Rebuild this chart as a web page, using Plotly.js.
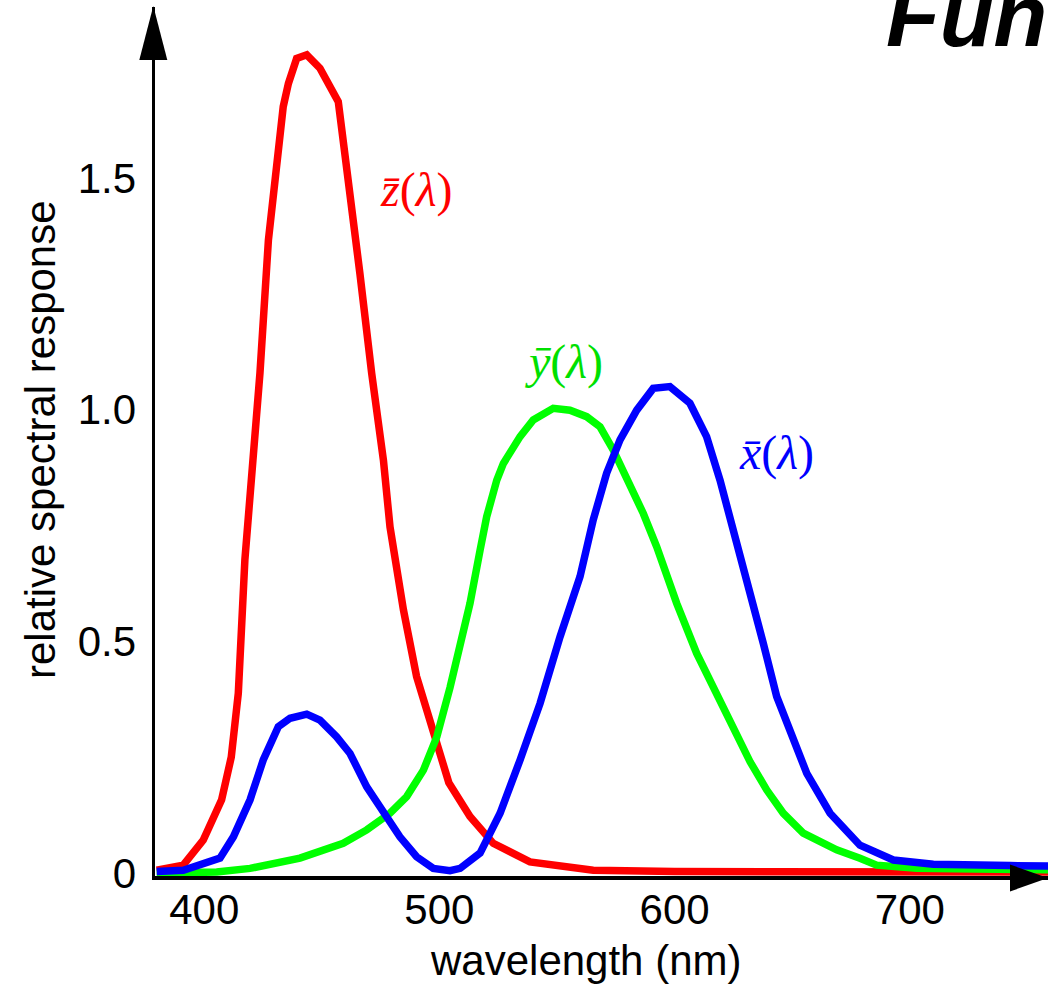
<!DOCTYPE html>
<html><head><meta charset="utf-8">
<script src="https://cdn.plot.ly/plotly-3.0.1.min.js"></script>
<style>html,body{margin:0;padding:0;background:#fff;overflow:hidden}</style>
</head><body><div id="chart" style="width:1048px;height:984px"></div>
<script>
// ---- data (wavelength in nm, relative response) ----
const zWl = [379.8, 391.1, 399.6, 407.4, 411.5, 414.5, 417.3, 421.1, 423.7, 427.3, 431.5, 433.6, 435.8, 439.3, 443.6, 449.2, 457.0, 462.0, 466.2, 471.2, 476.2, 479.0, 484.7, 490.3, 496.7, 504.0, 513.0, 522.9, 538.5, 565.4, 600, 650, 700, 758.8];
const zBar = [0.006, 0.017, 0.071, 0.158, 0.25, 0.388, 0.676, 0.891, 1.079, 1.366, 1.560, 1.654, 1.704, 1.758, 1.766, 1.737, 1.665, 1.476, 1.294, 1.079, 0.891, 0.747, 0.568, 0.424, 0.316, 0.195, 0.122, 0.064, 0.024, 0.006, 0.003, 0.002, 0.002, 0.002];

const yWl = [379.8, 405.3, 419.5, 440.7, 459.1, 469.1, 479.0, 486.1, 493.2, 498.9, 504.5, 508.8, 513.0, 517.3, 520.1, 524.4, 527.2, 534.3, 539.9, 548.4, 555.5, 562.6, 568.3, 573.9, 581.0, 586.7, 592.4, 600.9, 609.4, 617.9, 626.4, 632.1, 639.2, 646.2, 654.7, 668.9, 678.8, 685.9, 702.9, 742.6, 758.8];
const yBar = [0.000, 0.002, 0.010, 0.032, 0.064, 0.093, 0.129, 0.165, 0.222, 0.294, 0.400, 0.488, 0.582, 0.697, 0.769, 0.848, 0.884, 0.942, 0.978, 1.003, 0.999, 0.985, 0.963, 0.913, 0.841, 0.776, 0.704, 0.582, 0.474, 0.388, 0.294, 0.240, 0.179, 0.129, 0.086, 0.050, 0.032, 0.017, 0.010, 0.008, 0.007];

const xWl = [379.8, 391.1, 406.7, 412.4, 419.5, 425.1, 431.5, 436.5, 443.6, 449.2, 456.3, 462.0, 469.1, 476.2, 483.2, 490.3, 497.4, 504.5, 508.8, 517.3, 525.8, 534.3, 542.8, 551.3, 559.8, 565.4, 571.1, 576.8, 583.9, 590.9, 598.0, 606.5, 613.6, 619.3, 625.0, 631.4, 637.7, 643.4, 649.1, 656.2, 666.1, 678.8, 693.0, 710.0, 742.6, 758.8];
const xBar = [0.003, 0.006, 0.032, 0.078, 0.158, 0.244, 0.316, 0.334, 0.343, 0.330, 0.294, 0.258, 0.186, 0.129, 0.078, 0.035, 0.010, 0.005, 0.010, 0.043, 0.129, 0.244, 0.366, 0.510, 0.640, 0.762, 0.863, 0.935, 0.999, 1.046, 1.050, 1.014, 0.942, 0.848, 0.740, 0.625, 0.496, 0.381, 0.302, 0.215, 0.129, 0.060, 0.028, 0.019, 0.016, 0.015];

const xTickVals = [400, 500, 600, 700];
const xTickText = ["400", "500", "600", "700"];
const yTickVals = [0, 0.5, 1.0, 1.5];
const yTickText = ["0", "0.5", "1.0", "1.5"];

const seriesLabels = ["<i>z\u0304</i>(<i>\u03bb</i>)", "<i>y\u0304</i>(<i>\u03bb</i>)", "<i>x\u0304</i>(<i>\u03bb</i>)"];
const titleText = "Functions";
const xTitle = "wavelength (nm)";
const yTitle = "relative spectral response";

// ---- layout geometry ----
const W = 1048, H = 984, L = 155, R = 0, T = 7, B = 108;
const pw = W - L - R, ph = H - T - B;
const PX = p => (p - L) / pw;
const PY = p => (H - B - p) / ph;

const sans = "Liberation Sans, Arial, Helvetica, sans-serif";
const serif = "Liberation Serif, Times New Roman, serif";
const lw = 7.5;

const traces = [
  {x: zWl, y: zBar, mode: "lines", line: {color: "#ff0000", width: lw}, hoverinfo: "skip"},
  {x: yWl, y: yBar, mode: "lines", line: {color: "#00ff00", width: lw}, hoverinfo: "skip"},
  {x: xWl, y: xBar, mode: "lines", line: {color: "#0000ff", width: lw}, hoverinfo: "skip"}
];

const layout = {
  width: W, height: H,
  margin: {l: L, r: R, t: T, b: B, pad: 0},
  paper_bgcolor: "#fff", plot_bgcolor: "#fff",
  showlegend: false,
  xaxis: {
    range: [379.08, 758.76], showline: true, linecolor: "#000", linewidth: 4,
    showgrid: false, zeroline: false, ticks: "", tickvals: xTickVals, ticktext: xTickText,
    tickfont: {family: sans, size: 42, color: "#000"}, ticklabelstandoff: -6, fixedrange: true
  },
  yaxis: {
    range: [-0.00648, 1.8692], showline: true, linecolor: "#000", linewidth: 3.5,
    showgrid: false, zeroline: false, ticks: "", tickvals: yTickVals, ticktext: yTickText,
    tickfont: {family: sans, size: 42, color: "#000"}, ticklabelstandoff: 7, fixedrange: true
  },
  shapes: [
    {type: "path", xref: "paper", yref: "paper",
     path: `M ${PX(153.3)},${PY(6)} L ${PX(139.3)},${PY(60)} L ${PX(167.3)},${PY(60)} Z`,
     fillcolor: "#000", line: {width: 0}},
    {type: "path", xref: "paper", yref: "paper",
     path: `M ${PX(1048)},${PY(878)} L ${PX(1010)},${PY(864.5)} L ${PX(1010)},${PY(891.5)} Z`,
     fillcolor: "#000", line: {width: 0}}
  ],
  annotations: [
    {text: seriesLabels[0], x: 490.0, y: 1.474, xref: "x", yref: "y", showarrow: false,
     font: {family: serif, size: 48, color: "#ff0000"}},
    {text: seriesLabels[1], x: 553.0, y: 1.103, xref: "x", yref: "y", showarrow: false,
     font: {family: serif, size: 48, color: "#00e000"}},
    {text: seriesLabels[2], x: 643.5, y: 0.907, xref: "x", yref: "y", showarrow: false,
     font: {family: serif, size: 48, color: "#0000ff"}},
    {text: xTitle, x: PX(585), y: PY(960), xref: "paper", yref: "paper", showarrow: false,
     xanchor: "center", yanchor: "middle", font: {family: sans, size: 42, color: "#000"}},
    {text: yTitle, x: PX(40), y: PY(440), xref: "paper", yref: "paper", showarrow: false,
     textangle: -90, xanchor: "center", yanchor: "middle", font: {family: sans, size: 42, color: "#000"}},
    {text: "<b><i>" + titleText + "</i></b>", x: PX(884), y: PY(15), xref: "paper", yref: "paper",
     showarrow: false, xanchor: "left", yanchor: "middle",
     font: {family: sans, size: 88, color: "#000"}}
  ]
};

Plotly.newPlot("chart", traces, layout, {staticPlot: true, displayModeBar: false});
</script></body></html>
